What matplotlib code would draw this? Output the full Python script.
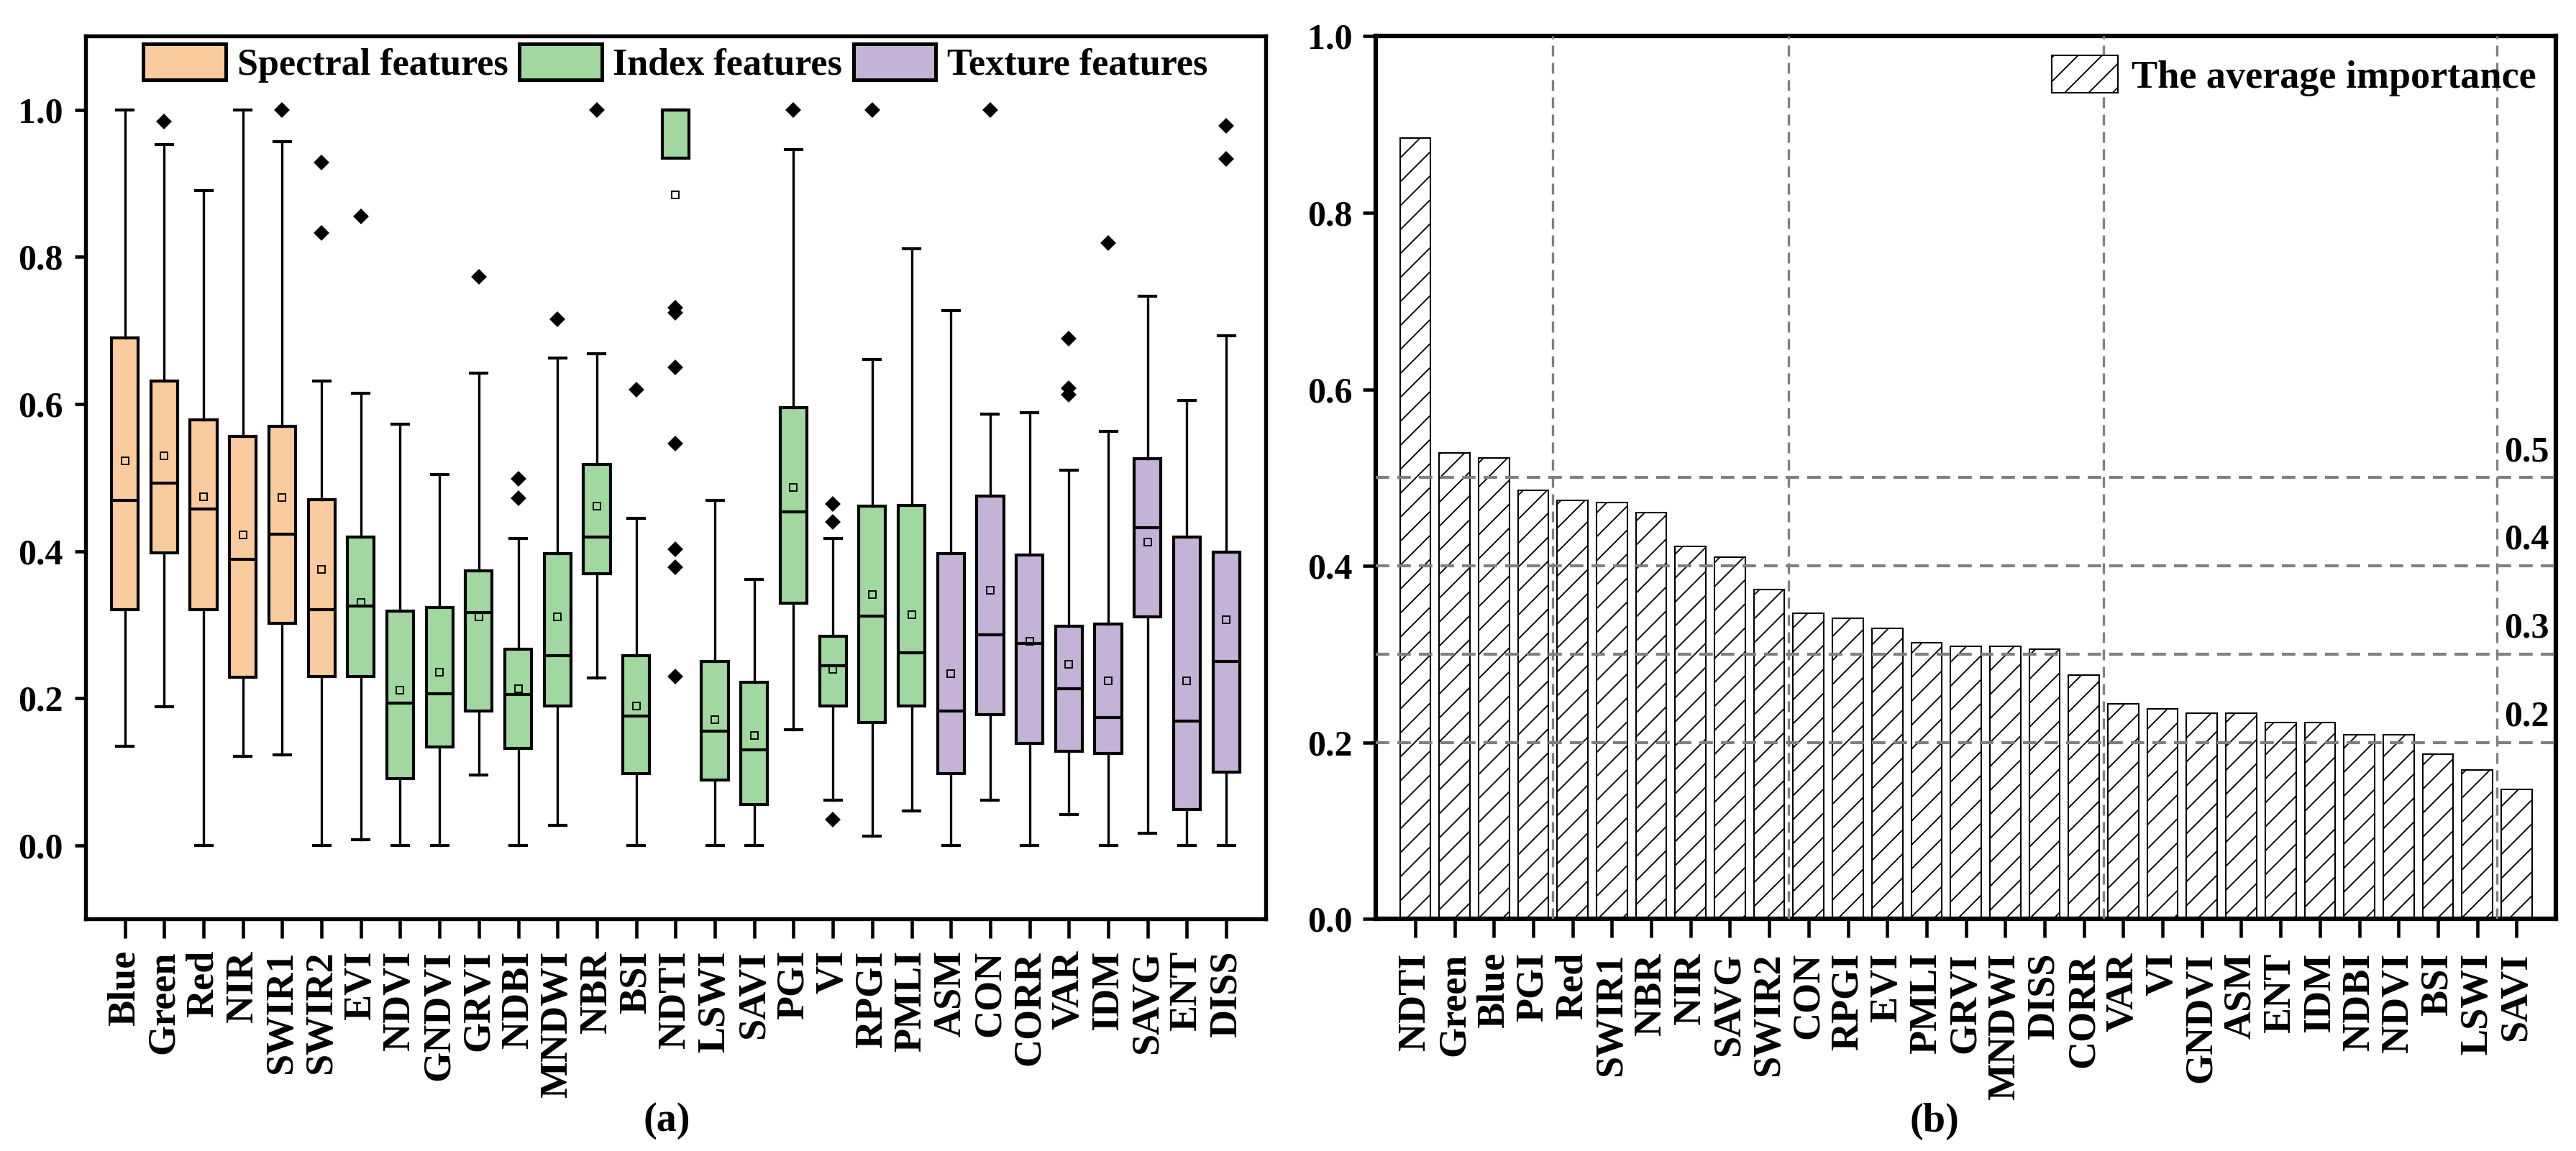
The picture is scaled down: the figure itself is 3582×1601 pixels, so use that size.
import matplotlib.pyplot as plt
from matplotlib.patches import Patch

plt.rcParams['font.family'] = ['Liberation Serif', 'DejaVu Serif']
plt.rcParams['font.weight'] = 'bold'
plt.rcParams['hatch.linewidth'] = 0.45

# ---------- (a) Box plot data ----------
features = ["Blue", "Green", "Red", "NIR", "SWIR1", "SWIR2", "EVI", "NDVI", "GNDVI", "GRVI",
            "NDBI", "MNDWI", "NBR", "BSI", "NDTI", "LSWI", "SAVI", "PGI", "VI", "RPGI",
            "PMLI", "ASM", "CON", "CORR", "VAR", "IDM", "SAVG", "ENT", "DISS"]
groups = ["Spectral features"] * 6 + ["Index features"] * 15 + ["Texture features"] * 8

whis_lo = [0.135, 0.189, 0.0, 0.121, 0.123, 0.0, 0.008, 0.0, 0.0, 0.096,
           0.0, 0.027, 0.228, 0.0, 0.934, 0.0, 0.0, 0.157, 0.062, 0.013,
           0.047, 0.0, 0.062, 0.0, 0.042, 0.0, 0.017, 0.0, 0.0]
q1 = [0.321, 0.398, 0.321, 0.229, 0.302, 0.230, 0.230, 0.091, 0.134, 0.183,
      0.132, 0.190, 0.369, 0.098, 0.934, 0.089, 0.056, 0.329, 0.190, 0.167,
      0.190, 0.098, 0.178, 0.139, 0.128, 0.125, 0.311, 0.049, 0.100]
median = [0.469, 0.493, 0.457, 0.389, 0.423, 0.321, 0.325, 0.194, 0.206, 0.317,
          0.205, 0.258, 0.419, 0.176, 1.0, 0.155, 0.130, 0.453, 0.244, 0.312,
          0.262, 0.183, 0.286, 0.275, 0.213, 0.174, 0.432, 0.169, 0.250]
q3 = [0.690, 0.631, 0.579, 0.556, 0.570, 0.470, 0.419, 0.319, 0.323, 0.373,
      0.267, 0.397, 0.518, 0.258, 1.0, 0.250, 0.222, 0.595, 0.284, 0.461,
      0.462, 0.397, 0.475, 0.395, 0.298, 0.301, 0.526, 0.419, 0.399]
whis_hi = [1.0, 0.953, 0.890, 1.0, 0.957, 0.631, 0.615, 0.573, 0.504, 0.642,
           0.417, 0.663, 0.668, 0.445, 1.0, 0.469, 0.362, 0.946, 0.417, 0.661,
           0.811, 0.727, 0.586, 0.588, 0.510, 0.563, 0.747, 0.605, 0.693]
mean = [0.523, 0.530, 0.474, 0.422, 0.473, 0.375, 0.330, 0.211, 0.236, 0.311,
        0.213, 0.311, 0.461, 0.190, 0.884, 0.171, 0.150, 0.487, 0.239, 0.341,
        0.314, 0.234, 0.347, 0.278, 0.246, 0.224, 0.412, 0.224, 0.307]
outliers = [[], [0.984], [], [], [1.0], [0.928, 0.833], [0.855], [], [], [0.773],
            [0.498, 0.472], [0.715], [1.0], [0.620],
            [0.731, 0.724, 0.650, 0.546, 0.403, 0.378, 0.230],
            [], [], [1.0], [0.464, 0.440, 0.035], [1.0],
            [], [], [1.0], [], [0.689, 0.622, 0.613], [0.819], [], [], [0.978, 0.933]]

group_colors = {"Spectral features": "#FACB9C",
                "Index features": "#A0D8A0",
                "Texture features": "#C4B3D7"}

# ---------- (b) Average importance data ----------
ranked = ["NDTI", "Green", "Blue", "PGI", "Red", "SWIR1", "NBR", "NIR", "SAVG", "SWIR2",
          "CON", "RPGI", "EVI", "PMLI", "GRVI", "MNDWI", "DISS", "CORR", "VAR", "VI",
          "GNDVI", "ASM", "ENT", "IDM", "NDBI", "NDVI", "BSI", "LSWI", "SAVI"]
importance = [0.885, 0.528, 0.522, 0.486, 0.474, 0.472, 0.460, 0.422, 0.410, 0.373,
              0.346, 0.341, 0.329, 0.313, 0.309, 0.309, 0.306, 0.276, 0.244, 0.238,
              0.233, 0.233, 0.223, 0.223, 0.209, 0.209, 0.187, 0.169, 0.147]
levels = [0.5, 0.4, 0.3, 0.2]
splits = [4.5, 10.5, 18.5, 28.5]

# ---------- Figure ----------
fig = plt.figure(figsize=(11.94, 5.337), dpi=300)
ax1 = fig.add_axes([0.0332, 0.2015, 0.4581, 0.767])
ax2 = fig.add_axes([0.5341, 0.2015, 0.4581, 0.767])

# ---------- (a) ----------
stats = []
for i, name in enumerate(features):
    stats.append(dict(label=name, whislo=whis_lo[i], q1=q1[i], med=median[i],
                      q3=q3[i], whishi=whis_hi[i], mean=mean[i], fliers=outliers[i]))

pos = list(range(1, len(features) + 1))
bp = ax1.bxp(stats, positions=pos, widths=0.68, patch_artist=True, showmeans=True,
             capwidths=0.42,
             boxprops=dict(edgecolor='black', linewidth=1.0),
             medianprops=dict(color='black', linewidth=1.0),
             whiskerprops=dict(color='black', linewidth=0.8),
             capprops=dict(color='black', linewidth=1.0),
             flierprops=dict(marker='D', markerfacecolor='black', markeredgecolor='black',
                             markersize=2.6),
             meanprops=dict(marker='s', markerfacecolor='none', markeredgecolor='black',
                            markersize=2.2, markeredgewidth=0.45))
for box, g in zip(bp['boxes'], groups):
    box.set_facecolor(group_colors[g])

ax1.set_xlim(0, 30)
ax1.set_ylim(-0.1, 1.1)
ax1.set_yticks([0.0, 0.2, 0.4, 0.6, 0.8, 1.0])
ax1.set_yticklabels([f"{v:.1f}" for v in [0.0, 0.2, 0.4, 0.6, 0.8, 1.0]], fontsize=12)
ax1.set_xticks(pos)
ax1.set_xticklabels(features, rotation=90, fontsize=13)
ax1.tick_params(axis='x', length=6.5, width=1.1, pad=4)
ax1.tick_params(axis='y', length=3.6, width=1.1, pad=4)
for s in ax1.spines.values():
    s.set_linewidth(1.3)

handles = [Patch(facecolor=c, edgecolor='black', linewidth=1.2, label=g)
           for g, c in group_colors.items()]
ax1.legend(handles=handles, loc='upper center', ncol=3, frameon=False, fontsize=12.5,
           handlelength=2.2, handleheight=1.1, handletextpad=0.3, columnspacing=0.3,
           borderpad=0.1, borderaxespad=0.1)

# ---------- (b) ----------
xb = list(range(1, len(ranked) + 1))
ax2.bar(xb, importance, width=0.78, color='white', edgecolor='black', hatch='///',
        linewidth=0.5, label="The average importance", zorder=2)

for lv in levels:
    ax2.axhline(lv, color='gray', linestyle=(0, (4.5, 2.7)), linewidth=1.0, zorder=3)
    ax2.text(29.83, lv + 0.01, f"{lv:.1f}", ha='right', va='bottom', fontsize=12)
for sx in splits:
    ax2.axvline(sx, color='gray', linestyle=(0, (4.5, 2.7)), linewidth=0.8, zorder=3)

ax2.set_xlim(0, 30)
ax2.set_ylim(0, 1.0)
ax2.set_yticks([0.0, 0.2, 0.4, 0.6, 0.8, 1.0])
ax2.set_yticklabels([f"{v:.1f}" for v in [0.0, 0.2, 0.4, 0.6, 0.8, 1.0]], fontsize=12)
ax2.set_xticks(xb)
ax2.set_xticklabels(ranked, rotation=90, fontsize=13)
ax2.tick_params(axis='x', length=6.2, width=1.1, pad=5)
ax2.tick_params(axis='y', length=4.3, width=1.1, pad=3.5)
for s in ax2.spines.values():
    s.set_linewidth(1.5)

ax2.legend(loc='upper right', frameon=False, fontsize=13, handlelength=1.7,
           handleheight=1.1, handletextpad=0.35, borderpad=0.3, borderaxespad=0.2)

# ---------- Panel labels ----------
fig.text(0.259, 0.026, "(a)", ha='center', va='center', fontsize=13.5)
fig.text(0.751, 0.026, "(b)", ha='center', va='center', fontsize=13.5)

fig.savefig("out.png", dpi=300)
